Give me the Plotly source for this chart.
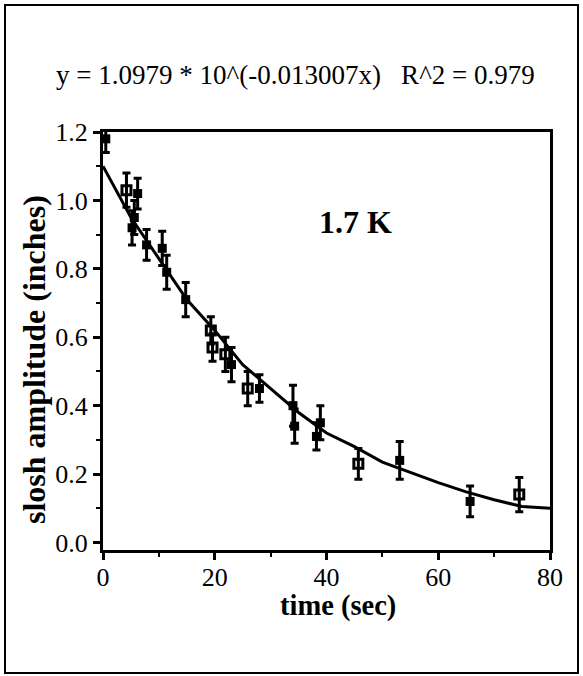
import plotly.graph_objects as go

# ---- data ----
time_filled = [0.5, 6.2, 5.6, 5.2, 7.8, 10.6, 11.4, 14.8, 23.0, 28.0, 34.0, 34.3, 38.2, 38.9, 53.1, 65.7]
amp_filled = [1.18, 1.02, 0.95, 0.92, 0.87, 0.86, 0.79, 0.71, 0.52, 0.45, 0.40, 0.34, 0.31, 0.35, 0.24, 0.12]
err_filled = [0.04, 0.045, 0.05, 0.05, 0.045, 0.05, 0.05, 0.05, 0.05, 0.04, 0.06, 0.05, 0.04, 0.05, 0.055, 0.045]

time_open = [4.2, 19.3, 19.6, 21.9, 25.9, 45.7, 74.5]
amp_open = [1.03, 0.62, 0.57, 0.55, 0.45, 0.23, 0.14]
err_open = [0.05, 0.04, 0.04, 0.05, 0.05, 0.045, 0.05]

fit_time = [0, 5, 10, 15, 20, 25, 30, 35, 40, 45, 50, 55, 60, 65, 70, 75, 80]
fit_amp = [1.10, 0.95, 0.83, 0.71, 0.62, 0.52, 0.45, 0.38, 0.32, 0.28, 0.235, 0.205, 0.175, 0.148, 0.125, 0.105, 0.10]

x_ticks = [0, 20, 40, 60, 80]
y_ticks = [0.0, 0.2, 0.4, 0.6, 0.8, 1.0, 1.2]
y_tick_text = ["0.0", "0.2", "0.4", "0.6", "0.8", "1.0", "1.2"]

equation_text = "y = 1.0979 * 10^(-0.013007x)   R^2 = 0.979"
label_text = "1.7 K"
x_title = "time (sec)"
y_title = "slosh amplitude (inches)"

FONT = "Liberation Serif"
W, H = 583, 676
L, R, T, B = 103, 33, 132, 126
pw, ph = W - L - R, H - T - B

def px2paper(x, y):
    return (x - L) / pw, (H - B - y) / ph

fig = go.Figure()

fig.add_trace(go.Scatter(
    x=fit_time, y=fit_amp, mode="lines",
    line=dict(color="black", width=3), showlegend=False, hoverinfo="skip"))

fig.add_trace(go.Scatter(
    x=time_filled, y=amp_filled, mode="markers",
    marker=dict(symbol="square", size=9, color="black"),
    error_y=dict(type="data", array=err_filled, color="black", thickness=3, width=4),
    showlegend=False))

fig.add_trace(go.Scatter(
    x=time_open, y=amp_open, mode="markers",
    marker=dict(symbol="square-open", size=9, color="black", line=dict(width=3)),
    error_y=dict(type="data", array=err_open, color="black", thickness=3, width=4),
    showlegend=False))

axis_common = dict(
    showgrid=False, zeroline=False, showline=True, linecolor="black", linewidth=3,
    mirror=True, ticks="outside", tickcolor="black", tickwidth=3,
    tickfont=dict(family=FONT, size=26, color="black"),
)

fig.update_xaxes(
    range=[0, 80], tickvals=x_ticks, ticklen=7, ticklabelstandoff=-5,
    minor=dict(dtick=10, ticks="outside", ticklen=4, tickwidth=2, tickcolor="black"),
    **axis_common)
fig.update_yaxes(
    range=[-0.022, 1.2], tickvals=y_ticks, ticktext=y_tick_text, ticklen=7,
    minor=dict(tickvals=[0.1, 0.3, 0.5, 0.7, 0.9, 1.1], ticks="outside", ticklen=4,
               tickwidth=2, tickcolor="black"),
    **axis_common)

ex, ey = px2paper(54, 75)
lx, ly = px2paper(355, 222)
xtx, xty = px2paper(338, 606)
ytx, yty = px2paper(34, 360)
x0, y0 = px2paper(5, 673)
x1, y1 = px2paper(578, 5)

fig.update_layout(
    width=W, height=H,
    margin=dict(l=L, r=R, t=T, b=B),
    paper_bgcolor="white", plot_bgcolor="white",
    annotations=[
        dict(text=equation_text, xref="paper", yref="paper", x=ex, y=ey,
             xanchor="left", yanchor="middle", showarrow=False,
             font=dict(family=FONT, size=27, color="black")),
        dict(text="<b>%s</b>" % label_text, xref="paper", yref="paper", x=lx, y=ly,
             xanchor="center", yanchor="middle", showarrow=False,
             font=dict(family=FONT, size=32, color="black")),
        dict(text="<b>%s</b>" % x_title, xref="paper", yref="paper", x=xtx, y=xty,
             xanchor="center", yanchor="middle", showarrow=False,
             font=dict(family=FONT, size=28.5, color="black")),
        dict(text="<b>%s</b>" % y_title, xref="paper", yref="paper", x=ytx, y=yty,
             xanchor="center", yanchor="middle", showarrow=False, textangle=-90,
             font=dict(family=FONT, size=32, color="black")),
    ],
    shapes=[
        dict(type="rect", xref="paper", yref="paper", x0=x0, y0=y0, x1=x1, y1=y1,
             line=dict(color="black", width=2), layer="below"),
    ],
)

fig.write_html("out.html", config={"displayModeBar": False},
               post_script="document.body.style.margin='0px';")
